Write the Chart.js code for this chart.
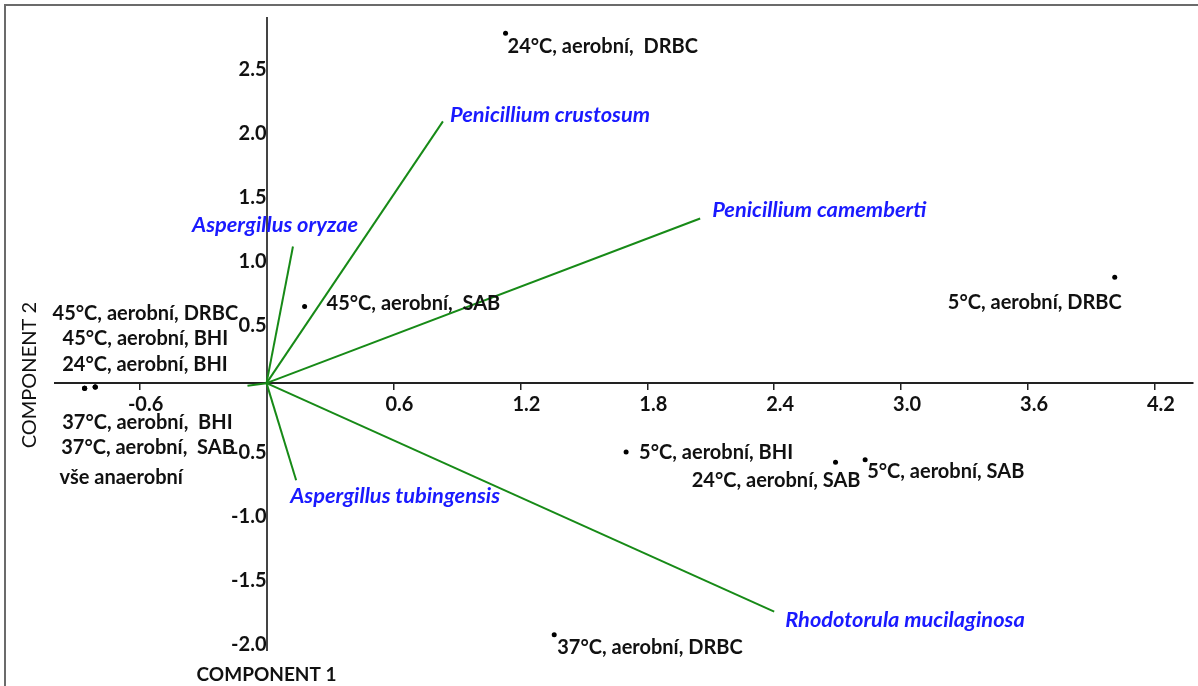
<!DOCTYPE html>
<html>
<head>
<meta charset="utf-8">
<title>PCA biplot</title>
<script src="https://cdn.jsdelivr.net/npm/chart.js@4.4.0/dist/chart.umd.min.js"></script>
<style>
  body { margin: 0; background: #fff; }
  #wrap { position: relative; width: 1198px; height: 686px; overflow: hidden; }
  #frame { position: absolute; left: 4px; top: 4px; width: 1300px; height: 800px;
           border-top: 2px solid #6b6b6b; border-left: 2px solid #6b6b6b; }
  canvas { position: absolute; left: 0; top: 0; }
</style>
</head>
<body>
<div id="wrap">
  <div id="frame"></div>
  <canvas id="chart" width="1198" height="686"></canvas>
</div>
<script>
// samples (component scores)
const sampleNames = [
  "24°C, aerobní,  DRBC",
  "45°C, aerobní,  SAB",
  "5°C, aerobní, DRBC",
  "5°C, aerobní, BHI",
  "24°C, aerobní, SAB",
  "5°C, aerobní, SAB",
  "37°C, aerobní, DRBC",
  "45°C, aerobní, DRBC",
  "45°C, aerobní, BHI",
  "24°C, aerobní, BHI",
  "37°C, aerobní,  BHI",
  "37°C, aerobní,  SAB",
  "vše anaerobní"
];
const samplePC1 = [1.13, 0.18, 4.01, 1.70, 2.69, 2.83, 1.36, -0.86, -0.86, -0.81, -0.81, -0.81, -0.86];
const samplePC2 = [2.74, 0.60, 0.83, -0.54, -0.62, -0.60, -1.97, -0.04, -0.04, -0.03, -0.03, -0.03, -0.04];

// species loadings (vectors from origin)
const speciesNames = [
  "Penicillium crustosum",
  "Penicillium camemberti",
  "Aspergillus oryzae",
  "Aspergillus tubingensis",
  "Rhodotorula mucilaginosa",
  ""
];
const loadPC1 = [0.834, 2.05, 0.125, 0.14, 2.40, -0.09];
const loadPC2 = [2.05, 1.29, 1.07, -0.76, -1.79, -0.02];

const xTicks = [-0.6, 0.6, 1.2, 1.8, 2.4, 3.0, 3.6, 4.2];
const yTicks = [-2.0, -1.5, -1.0, -0.5, 0.5, 1.0, 1.5, 2.0, 2.5];

// label placement, pixel offsets from the point: [dx, dy, align]
const sampleLabelPos = [
  [2, 13, 'left'], [22, -3, 'left'], [7, 25, 'right'], [13, 0, 'left'],
  [25, 18, 'right'], [2, 12, 'left'], [3, 13, 'left'],
  [-32, -75, 'left'], [-22, -50, 'left'], [-33, -22, 'left'],
  [-33, 36, 'left'], [-34, 61, 'left'], [-25, 89, 'left']
];
const speciesLabelPos = [
  [7, -6, 'left'], [12, -8, 'left'], [-101, -22, 'left'],
  [-6, 16, 'left'], [11, 8, 'left'], [0, 0, 'left']
];

const tickFont = { family: 'Lato', size: 20, weight: 'bold' };
const green = '#178a17';

const labelPlugin = {
  id: 'pcaLabels',
  afterDatasetsDraw(chart) {
    const { ctx, scales: { x, y }, chartArea } = chart;
    ctx.save();
    ctx.textBaseline = 'middle';

    ctx.font = 'bold 20px Lato';
    ctx.fillStyle = '#111';
    sampleNames.forEach((name, i) => {
      const [dx, dy, align] = sampleLabelPos[i];
      ctx.textAlign = align;
      ctx.fillText(name, x.getPixelForValue(samplePC1[i]) + dx, y.getPixelForValue(samplePC2[i]) + dy);
    });

    ctx.font = 'italic bold 21.8px Lato';
    ctx.fillStyle = '#1a1aff';
    speciesNames.forEach((name, i) => {
      const [dx, dy, align] = speciesLabelPos[i];
      ctx.textAlign = align;
      ctx.fillText(name, x.getPixelForValue(loadPC1[i]) + dx, y.getPixelForValue(loadPC2[i]) + dy);
    });

    // axis titles
    ctx.fillStyle = '#111';
    ctx.textAlign = 'center';
    ctx.font = 'bold 19px Lato';
    ctx.fillText('COMPONENT 1', x.getPixelForValue(0), chartArea.bottom + 25);
    ctx.translate(30, y.getPixelForValue(0) - 8);
    ctx.rotate(-Math.PI / 2);
    ctx.font = '20px Lato';
    ctx.fillText('COMPONENT 2', 0, 0);
    ctx.restore();
  }
};

const loadingSets = speciesNames.map((name, i) => ({
  type: 'line',
  label: name,
  data: [{ x: 0, y: 0 }, { x: loadPC1[i], y: loadPC2[i] }],
  borderColor: green,
  borderWidth: 2,
  pointRadius: 0,
  fill: false
}));

new Chart(document.getElementById('chart'), {
  type: 'scatter',
  data: {
    datasets: [
      {
        label: 'samples',
        data: samplePC1.map((v, i) => ({ x: v, y: samplePC2[i] })),
        backgroundColor: '#000',
        borderWidth: 0,
        pointRadius: 2.5
      },
      ...loadingSets
    ]
  },
  options: {
    responsive: false,
    animation: false,
    devicePixelRatio: 1,
    layout: { padding: { left: 55, right: 5, top: 18, bottom: 36 } },
    plugins: { legend: { display: false }, tooltip: { enabled: false } },
    scales: {
      x: {
        type: 'linear',
        position: { y: 0 },
        min: -1.0,
        max: 4.38,
        afterBuildTicks: s => { s.ticks = xTicks.map(v => ({ value: v })); },
        grid: { drawOnChartArea: false, drawTicks: true, tickLength: 6, color: '#222', lineWidth: 1.5 },
        border: { display: true, color: '#222', width: 2 },
        ticks: { font: tickFont, color: '#111', padding: 3, labelOffset: 6,
                 maxRotation: 0, autoSkip: false, callback: v => v.toFixed(1) }
      },
      y: {
        type: 'linear',
        position: { x: 0 },
        min: -2.09,
        max: 2.86,
        afterBuildTicks: s => { s.ticks = yTicks.map(v => ({ value: v })); },
        grid: { display: false, drawTicks: false },
        border: { display: true, color: '#444', width: 2 },
        ticks: { font: tickFont, color: '#111', padding: -4, labelOffset: 6,
                 autoSkip: false, callback: v => v.toFixed(1) }
      }
    }
  },
  plugins: [labelPlugin]
});
</script>
</body>
</html>
